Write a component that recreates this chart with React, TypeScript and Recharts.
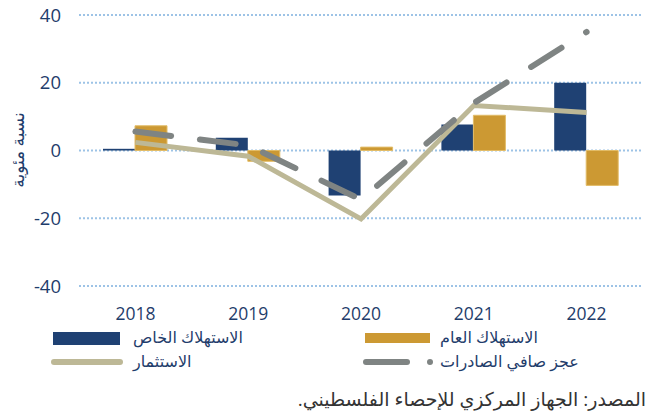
import React from "react";
import { ComposedChart, Bar, Line, XAxis, YAxis, CartesianGrid } from "recharts";

const years = ["2018", "2019", "2020", "2021", "2022"];
const privateConsumption = [0.5, 3.8, -13.3, 7.7, 20];
const publicConsumption = [7.3, -3.2, 1.0, 10.4, -10.3];
const investment = [2.4, -1.7, -20.2, 13.3, 11.2];
const netExportsDeficit = [5.6, 1.5, -14.5, 14, 35];
const yTicks = [-40, -20, 0, 20, 40];

const labels = {
  private: "الاستهلاك الخاص",
  public: "الاستهلاك العام",
  investment: "الاستثمار",
  exports: "عجز صافي الصادرات",
  yAxis: "نسبة مئوية",
  source: "المصدر: الجهاز المركزي للإحصاء الفلسطيني.",
};

const data = years.map((y, i) => ({
  year: y,
  priv: privateConsumption[i],
  pub: publicConsumption[i],
  inv: investment[i],
  exp: netExportsDeficit[i],
}));

const NAVY = "#1F4173";
const GOLD = "#CC9933";
const BEIGE = "#BDB896";
const GRAY = "#7F8483";
const TEXT = "#1F3D6B";
const FONT = "'Open Sans', 'DejaVu Sans', sans-serif";

export default function App() {
  return (
    <div style={{ position: "absolute", left: 0, top: 0, width: 646, height: 415, background: "#fff", fontFamily: FONT }}>
      <ComposedChart
        width={646}
        height={330}
        data={data}
        margin={{ top: 15, right: 3, left: 0, bottom: 0 }}
        barGap={0}
      >
        <CartesianGrid vertical={false} stroke="#9DC3E6" strokeDasharray="2 2" strokeWidth={2} />
        <XAxis
          dataKey="year"
          axisLine={false}
          tickLine={false}
          height={44}
          tick={{ fill: TEXT, fontSize: 17.5, fontFamily: FONT, dy: 14 }}
        />
        <YAxis
          domain={[-40, 40]}
          ticks={yTicks}
          axisLine={false}
          tickLine={false}
          width={79}
          tick={{ fill: TEXT, fontSize: 18.5, fontFamily: FONT, dx: -10 }}
        />
        <Bar dataKey="priv" fill={NAVY} barSize={32} isAnimationActive={false} />
        <Bar dataKey="pub" fill={GOLD} stroke="#E2BC68" strokeWidth={1} barSize={32} isAnimationActive={false} />
        <Line type="linear" dataKey="inv" stroke={BEIGE} strokeWidth={5} dot={false} isAnimationActive={false} />
        <Line
          type="linear"
          dataKey="exp"
          stroke={GRAY}
          strokeWidth={6}
          strokeDasharray="36 29"
          strokeLinecap="round"
          dot={false}
          isAnimationActive={false}
        />
      </ComposedChart>

      <div
        style={{
          position: "absolute",
          left: 17,
          top: 150,
          transform: "translate(-50%, -50%) rotate(-90deg)",
          color: TEXT,
          fontSize: 17,
          whiteSpace: "nowrap",
          direction: "rtl",
        }}
      >
        {labels.yAxis}
      </div>

      {/* Legend */}
      <div style={{ position: "absolute", left: 53, top: 332, width: 67, height: 13, background: NAVY }} />
      <div style={{ position: "absolute", left: 133, top: 326, color: TEXT, fontSize: 16, direction: "rtl", whiteSpace: "nowrap" }}>
        {labels.private}
      </div>
      <div style={{ position: "absolute", left: 365, top: 333, width: 65, height: 10, background: GOLD }} />
      <div style={{ position: "absolute", left: 440, top: 326, color: TEXT, fontSize: 16, direction: "rtl", whiteSpace: "nowrap" }}>
        {labels.public}
      </div>
      <div style={{ position: "absolute", left: 51, top: 359, width: 72, height: 6, borderRadius: 3, background: BEIGE }} />
      <div style={{ position: "absolute", left: 133, top: 350, color: TEXT, fontSize: 16, direction: "rtl", whiteSpace: "nowrap" }}>
        {labels.investment}
      </div>
      <div style={{ position: "absolute", left: 363, top: 359, width: 47, height: 6, borderRadius: 3, background: GRAY }} />
      <div style={{ position: "absolute", left: 427, top: 359, width: 6, height: 6, borderRadius: 3, background: GRAY }} />
      <div style={{ position: "absolute", left: 440, top: 350, color: TEXT, fontSize: 16, direction: "rtl", whiteSpace: "nowrap" }}>
        {labels.exports}
      </div>

      <div style={{ position: "absolute", right: 0, top: 386, color: "#333", fontSize: 19, direction: "rtl", whiteSpace: "nowrap" }}>
        {labels.source}
      </div>
    </div>
  );
}
